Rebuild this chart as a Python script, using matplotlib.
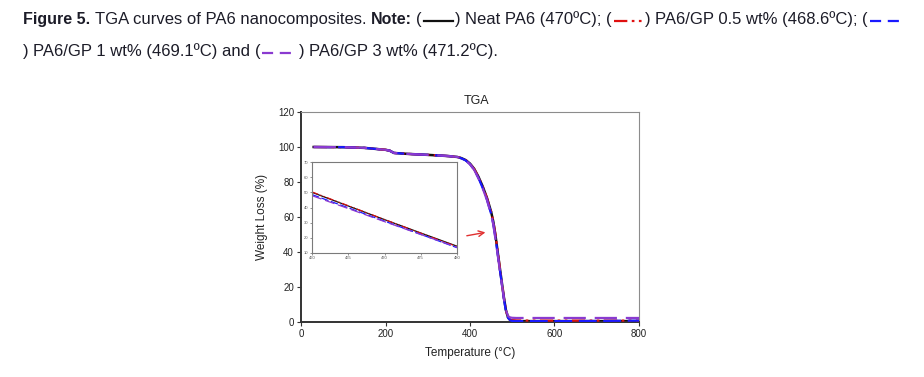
import matplotlib
matplotlib.use('Agg')
import matplotlib.pyplot as plt
from matplotlib.lines import Line2D

plt.rcParams['font.family'] = ['Liberation Sans', 'DejaVu Sans']

W, H = 924, 377

# ---------------- data ----------------
temps = [30, 100, 150, 200, 210, 220, 250, 300, 350, 370, 380, 390, 400, 410,
         420, 430, 440, 450, 455, 460, 465, 470, 475, 480, 485, 490, 495, 500,
         510, 550, 600, 700, 800]
neat = [100.0, 99.9, 99.5, 98.4, 97.9, 96.6, 96.1, 95.5, 94.8, 94.3, 93.6,
        92.5, 90.5, 87.5, 83.0, 77.5, 71.0, 63.0, 57.5, 50.0, 41.0, 32.0, 23.2,
        14.5, 6.8, 2.6, 1.1, 0.7, 0.5, 0.5, 0.5, 0.5, 0.5]
gp05 = [100.0, 99.9, 99.5, 98.4, 97.9, 96.6, 96.1, 95.5, 94.8, 94.3, 93.6,
        92.5, 90.4, 87.3, 82.8, 77.3, 70.8, 63.0, 57.6, 50.3, 41.2, 32.1, 23.1,
        14.2, 6.6, 2.6, 1.3, 1.0, 0.9, 0.8, 0.8, 0.8, 0.8]
gp1 = [100.0, 99.9, 99.5, 98.4, 97.9, 96.6, 96.1, 95.5, 94.8, 94.3, 93.5,
       92.3, 90.2, 87.0, 82.3, 76.6, 70.0, 61.8, 56.2, 48.5, 39.8, 31.0, 22.3,
       13.5, 6.2, 2.4, 1.0, 0.6, 0.5, 0.5, 0.5, 0.6, 0.8]
gp3 = [100.0, 99.9, 99.5, 98.4, 97.9, 96.6, 96.1, 95.5, 94.8, 94.3, 93.5,
       92.3, 90.1, 86.9, 82.1, 76.4, 69.8, 61.5, 55.8, 47.8, 39.3, 30.7, 22.2,
       13.8, 6.8, 3.4, 2.6, 2.4, 2.3, 2.3, 2.3, 2.3, 2.3]

ins_temps = [460, 465, 470, 475, 480]
ins_neat = [50.0, 41.0, 32.0, 23.2, 14.5]
ins_gp05 = [50.3, 41.2, 32.1, 23.1, 14.2]
ins_gp1 = [48.5, 39.8, 31.0, 22.3, 13.5]
ins_gp3 = [47.8, 39.3, 30.7, 22.2, 13.8]

main_xticks = [0, 200, 400, 600, 800]
main_yticks = [0, 20, 40, 60, 80, 100, 120]
ins_xticks = [460, 465, 470, 475, 480]
ins_yticks = [10, 20, 30, 40, 50, 60, 70]

C_NEAT, C_05, C_1, C_3 = '#111111', '#e01010', '#1a1aff', '#8a3ad0'
ST_05 = (0, (6, 2, 1.2, 2, 1.2, 2))
ST_1 = (0, (8, 3))
ST_3 = (0, (10, 4))

fig = plt.figure(figsize=(W / 100, H / 100), dpi=100)
fig.patch.set_facecolor('white')

# ---------------- caption ----------------
TXT = '#1c1c28'
FS = 12.0
FSB = 11.5
r = fig.canvas.get_renderer()


def caption(items, y_px, x0=23):
    x = x0
    for it in items:
        kind = it[0]
        if kind == 'text':
            _, s, bold = it
            t = fig.text(x / W, 1 - y_px / H, s, fontsize=FSB if bold else FS,
                         color=TXT, fontweight='bold' if bold else 'normal',
                         ha='left', va='baseline')
            x += t.get_window_extent(r).width
        elif kind == 'gap':
            x += it[1]
        else:
            _, col, ls, L = it
            yy = 1 - (y_px - 3.5) / H
            fig.add_artist(Line2D([(x + 2) / W, (x + 2 + L) / W], [yy, yy],
                                  transform=fig.transFigure, color=col,
                                  linestyle=ls, linewidth=1.6))
            x += L + 4


SP = 4.6
caption([('text', 'Figure 5.', True), ('gap', SP),
         ('text', 'TGA curves of PA6 nanocomposites.', False), ('gap', SP),
         ('text', 'Note:', True), ('gap', SP), ('text', '(', False),
         ('line', C_NEAT, '-', 29), ('text', ')', False), ('gap', SP),
         ('text', 'Neat PA6 (470ºC);', False), ('gap', SP),
         ('text', '(', False), ('line', C_05, ST_05, 29), ('text', ')', False),
         ('gap', SP), ('text', 'PA6/GP 0.5 wt% (468.6ºC);', False),
         ('gap', SP), ('text', '(', False), ('line', C_1, (0, (5, 3)), 30)], 24)
caption([('text', ')', False), ('gap', SP),
         ('text', 'PA6/GP 1 wt% (469.1ºC) and', False), ('gap', SP),
         ('text', '(', False), ('line', C_3, (0, (5, 3)), 34),
         ('text', ')', False),
         ('gap', SP), ('text', 'PA6/GP 3 wt% (471.2ºC).', False)], 56)

# ---------------- main axes ----------------
ax = fig.add_axes([301 / W, 1 - 322 / H, 338 / W, 210 / H])
ax.plot(temps, neat, color=C_NEAT, lw=1.8, ls='-', zorder=2)
ax.plot(temps, gp05, color=C_05, lw=1.6, ls=ST_05, zorder=3)
ax.plot(temps, gp1, color=C_1, lw=1.6, ls=ST_1, zorder=4)
ax.plot(temps, gp3, color=C_3, lw=1.6, ls=ST_3, zorder=5)
ax.set_xlim(0, 800)
ax.set_ylim(0, 120)
ax.set_xticks(main_xticks)
ax.set_yticks(main_yticks)
ax.tick_params(labelsize=7, length=3, width=0.8, colors='#333333',
               labelcolor='#222222', pad=2)
for side in ('left', 'bottom'):
    ax.spines[side].set_color('#333333')
    ax.spines[side].set_linewidth(1.4)
for side in ('top', 'right'):
    ax.spines[side].set_color('#8c8c8c')
    ax.spines[side].set_linewidth(0.8)
ax.set_xlabel('Temperature (°C)', fontsize=8.5, color='#222222', labelpad=6)
ax.set_ylabel('Weight Loss (%)', fontsize=8.5, color='#222222', labelpad=7)
ax.text(0.52, 1.025, 'TGA', transform=ax.transAxes, fontsize=9,
        color='#222222', ha='center', va='bottom')
ax.annotate('', xy=(443, 51.5), xytext=(386, 49),
            arrowprops=dict(arrowstyle='->', color='#e03030', lw=1.0,
                            mutation_scale=10))

# ---------------- inset ----------------
ai = fig.add_axes([312 / W, 1 - 253 / H, 145 / W, 91 / H])
ai.plot(ins_temps, ins_neat, color=C_NEAT, lw=0.9, ls='-')
ai.plot(ins_temps, ins_gp05, color=C_05, lw=0.8, ls=ST_05)
ai.plot(ins_temps, ins_gp1, color=C_1, lw=0.9, ls=(0, (6, 2)))
ai.plot(ins_temps, ins_gp3, color=C_3, lw=0.9, ls=(0, (8, 3)))
ai.set_xlim(460, 480)
ai.set_ylim(10, 70)
ai.set_xticks(ins_xticks)
ai.set_yticks(ins_yticks)
ai.tick_params(labelsize=3, length=1.5, width=0.5, colors='#666666',
               labelcolor='#555555', pad=1)
for s in ai.spines.values():
    s.set_color('#7a7a7a')
    s.set_linewidth(0.8)

fig.savefig('out.png', dpi=100, facecolor='white')
